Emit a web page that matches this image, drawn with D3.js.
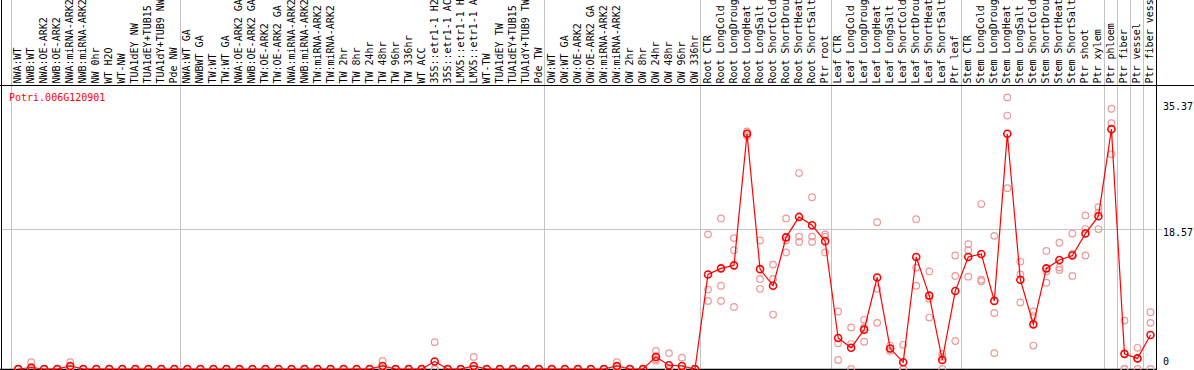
<!DOCTYPE html>
<html>
<head>
    <title>Potri.006G120901</title>
    <style>
        body {
            background: #ffffff;
            margin: 0;
            padding: 0;
            overflow: hidden;
        }
        text {
            font-family: "DejaVu Sans Mono", monospace;
            font-size: 10px;
        }
    </style>
</head>
<body>
    <svg id="chart" width="1194" height="370"></svg>

    <script src="https://d3js.org/d3.v7.min.js"></script>
    <script>
        const title = 'Potri.006G120901';

        const categories = [
            'NWA:WT', 'NWB:WT', 'NWA:OE-ARK2', 'NWB:OE-ARK2', 'NWA:miRNA-ARK2', 'NWB:miRNA-ARK2',
            'NW 0hr', 'WT H2O', 'WT-NW', 'TUA1dEY NW', 'TUA1dEY+TUB15', 'TUA1dY+TUB9 NW', 'Pde NW',
            'NWA:WT GA', 'NWBWT GA', 'TW:WT', 'TW:WT GA', 'NWA:OE-ARK2 GA', 'NWB:OE-ARK2 GA',
            'TW:OE-ARK2', 'TW:OE-ARK2 GA', 'NWA:miRNA-ARK2', 'NWB:miRNA-ARK2', 'TW:miRNA-ARK2',
            'TW:miRNA-ARK2', 'TW 2hr', 'TW 8hr', 'TW 24hr', 'TW 48hr', 'TW 96hr', 'TW 336hr',
            'WT ACC', '35S::etr1-1 H2O', '35S::etr1-1 ACC', 'LMX5::etr1-1 H2O', 'LMX5::etr1-1 ACC',
            'WT-TW', 'TUA1dEY TW', 'TUA1dEY+TUB15', 'TUA1dY+TUB9 TW', 'Pde TW',
            'OW:WT', 'OW:WT GA', 'OW:OE-ARK2', 'OW:OE-ARK2 GA', 'OW:miRNA-ARK2', 'OW:miRNA-ARK2',
            'OW 2hr', 'OW 8hr', 'OW 24hr', 'OW 48hr', 'OW 96hr', 'OW 336hr',
            'Root CTR', 'Root LongCold', 'Root LongDrought', 'Root LongHeat', 'Root LongSalt',
            'Root ShortCold', 'Root ShortDrought', 'Root ShortHeat', 'Root ShortSalt', 'Ptr root',
            'Leaf CTR', 'Leaf LongCold', 'Leaf LongDrought', 'Leaf LongHeat', 'Leaf LongSalt',
            'Leaf ShortCold', 'Leaf ShortDrought', 'Leaf ShortHeat', 'Leaf ShortSalt', 'Ptr leaf',
            'Stem CTR', 'Stem LongCold', 'Stem LongDrought', 'Stem LongHeat', 'Stem LongSalt',
            'Stem ShortCold', 'Stem ShortDrought', 'Stem ShortHeat', 'Stem ShortSalt',
            'Ptr shoot', 'Ptr xylem',
            'Ptr phloem', 'Ptr fiber', 'Ptr vessel', 'Ptr fiber vessel'
        ];

        // how many columns in each block (gray line before each block)
        const groupSizes = [13, 28, 12, 10, 10, 11, 1, 1, 1, 1];

        // mean expression per column
        const means = [
            0, 0.2, 0, 0, 0.4, 0, 0, 0, 0, 0, 0, 0, 0,
            0, 0, 0, 0, 0, 0, 0, 0, 0, 0, 0, 0, 0, 0, 0, 0.4, 0, 0, 0, 1.0, 0, 0, 0.4, 0, 0, 0, 0, 0,
            0, 0, 0, 0, 0, 0.4, 0, 0, 1.6, 0.5, 0.4, 0,
            12.5, 13.3, 13.7, 31.1, 13.2, 11.0, 17.4, 20.1, 19.0, 16.9,
            4.1, 2.8, 5.2, 12.1, 2.7, 0.9, 14.8, 9.7, 1.2, 10.3,
            14.8, 15.2, 9.0, 31.1, 11.8, 5.9, 13.3, 14.4, 15.0, 17.9, 20.2,
            31.7, 2.0, 1.4, 4.5
        ];

        // single replicates per column
        const replicates = [
            [0, 0, 0], [0.9, 0, 0], [0, 0, 0], [0, 0, 0], [0.9, 0.3, 0], [0, 0, 0], [0, 0, 0],
            [0, 0, 0], [0, 0, 0], [0, 0, 0], [0, 0, 0], [0, 0, 0], [0, 0, 0],
            [0, 0, 0], [0, 0, 0], [0, 0, 0], [0, 0, 0], [0, 0, 0], [0, 0, 0], [0, 0, 0],
            [0, 0, 0], [0, 0, 0], [0, 0, 0], [0, 0, 0], [0, 0, 0], [0, 0, 0], [0, 0, 0],
            [0, 0, 0], [1.06, 0.1, 0], [0, 0, 0], [0, 0, 0], [0, 0, 0], [3.55, 0, 0],
            [0, 0, 0], [0, 0, 0], [1.6, 0, 0], [0, 0, 0], [0, 0, 0], [0, 0, 0], [0, 0, 0], [0, 0, 0],
            [0, 0, 0], [0, 0, 0], [0, 0, 0], [0, 0, 0], [0, 0, 0], [0.9, 0.3, 0], [0, 0, 0],
            [0, 0, 0], [2.4, 1.1, 1.3], [2.1, 0, 0], [1.5, 0, 0], [0, 0, 0],
            [17.8, 10.5, 9.0], [19.9, 11.0, 9.0], [17.3, 15.7, 8.2], [31.4, 30.8, 31.1],
            [17.0, 11.9, 10.6], [13.8, 11.9, 7.2], [19.9, 17.0, 15.4], [25.9, 17.5, 16.8],
            [22.7, 17.5, 16.8], [17.8, 17.5, 15.4],
            [7.6, 3.4, 1.2], [5.5, 3.3, 0], [6.5, 3.6, 5.5], [19.4, 10.6, 6.1], [3.1, 2.4, 2.7],
            [3.2, 0, 0], [19.8, 13.4, 11.0], [12.9, 9.3, 6.8], [2.0, 1.6, 0], [15.0, 12.3, 3.7],
            [16.5, 15.7, 12.2], [21.8, 11.8, 11.6], [17.6, 7.4, 2.1], [35.9, 33.5, 23.9],
            [14.2, 12.5, 8.8], [7.6, 3.1, 7.0], [15.6, 12.9, 11.4], [16.7, 13.4, 13.1],
            [17.9, 15.2, 12.3], [20.3, 18.5, 15.0], [21.4, 20.7, 18.5],
            [34.4, 32.5, 28.4], [6.4, 0, 0], [2.8, 0, 1.4], [7.5, 6.1, 0]
        ];

        const yTicks = [0, 18.57, 35.37];
        const yGrid = [18.57];

        const svg = d3.select('#chart');
        const width = 1194, height = 370;
        const plotLeft = 1, plotRight = 1156, plotTop = 85, plotBottom = 369;

        const x = d3.scaleBand()
            .domain(d3.range(categories.length))
            .range([10.7, plotRight])
            .padding(0);
        const cx = i => x(i) + 7.5;

        const y = d3.scaleLinear()
            .domain([0, 18.57])
            .range([plotBottom, 228.5]);

        // vertical gray lines at group starts
        let starts = [];
        let acc = 0;
        groupSizes.forEach(n => { starts.push(acc); acc += n; });

        svg.append('g')
            .selectAll('line')
            .data(starts)
            .join('line')
            .attr('x1', d => Math.round(x(d)) + 0.5)
            .attr('x2', d => Math.round(x(d)) + 0.5)
            .attr('y1', 0)
            .attr('y2', plotBottom)
            .attr('stroke', '#c4c4c4')
            .attr('stroke-width', 1);

        svg.append('g')
            .selectAll('line')
            .data(yGrid)
            .join('line')
            .attr('x1', plotLeft)
            .attr('x2', 1162)
            .attr('y1', d => Math.round(y(d)) + 0.5)
            .attr('y2', d => Math.round(y(d)) + 0.5)
            .attr('stroke', '#c4c4c4')
            .attr('stroke-width', 1);

        // frame
        svg.append('line')
            .attr('x1', 0).attr('x2', width)
            .attr('y1', plotTop + 0.5).attr('y2', plotTop + 0.5)
            .attr('stroke', '#000').attr('stroke-width', 1);
        svg.append('line')
            .attr('x1', plotLeft + 0.5).attr('x2', plotLeft + 0.5)
            .attr('y1', 0).attr('y2', plotBottom)
            .attr('stroke', '#000').attr('stroke-width', 1);
        svg.append('line')
            .attr('x1', plotRight + 0.5).attr('x2', plotRight + 0.5)
            .attr('y1', 0).attr('y2', height)
            .attr('stroke', '#000').attr('stroke-width', 1);
        svg.append('line')
            .attr('x1', 0).attr('x2', plotRight)
            .attr('y1', plotBottom + 0.5).attr('y2', plotBottom + 0.5)
            .attr('stroke', '#000').attr('stroke-width', 1.5);

        // column labels, rotated; the reference shows at most 14 characters
        svg.append('g')
            .selectAll('text')
            .data(categories)
            .join('text')
            .attr('transform', (d, i) => `translate(${cx(i) + 3}, ${plotTop - 1.5}) rotate(-90)`)
            .attr('fill', '#000')
            .text(d => d.slice(0, 14));

        // title
        svg.append('text')
            .attr('x', 9)
            .attr('y', 101)
            .attr('fill', '#ff0000')
            .text(title);

        // right-hand value labels
        const tickOffset = { 0: -4, 18.57: 7, 35.37: 9 };
        svg.append('g')
            .selectAll('text')
            .data(yTicks)
            .join('text')
            .attr('x', 1163)
            .attr('y', d => y(d) + tickOffset[d])
            .attr('fill', '#000')
            .text(d => d);

        // replicate circles
        const repPoints = [];
        replicates.forEach((r, i) => r.forEach(v => repPoints.push({ i: i, v: v })));
        svg.append('g')
            .selectAll('circle')
            .data(repPoints)
            .join('circle')
            .attr('cx', d => cx(d.i))
            .attr('cy', d => y(d.v))
            .attr('r', 3.3)
            .attr('fill', 'none')
            .attr('stroke', '#ee9898')
            .attr('stroke-width', 1.2);

        // mean line
        const line = d3.line()
            .x((d, i) => cx(i))
            .y(d => y(d));
        svg.append('path')
            .datum(means)
            .attr('d', line)
            .attr('fill', 'none')
            .attr('stroke', '#ff0000')
            .attr('stroke-width', 1.2);

        svg.append('g')
            .selectAll('circle')
            .data(means)
            .join('circle')
            .attr('cx', (d, i) => cx(i))
            .attr('cy', d => y(d))
            .attr('r', 3.5)
            .attr('fill', 'none')
            .attr('stroke', '#ff0000')
            .attr('stroke-width', 1.6);
    </script>
</body>
</html>
